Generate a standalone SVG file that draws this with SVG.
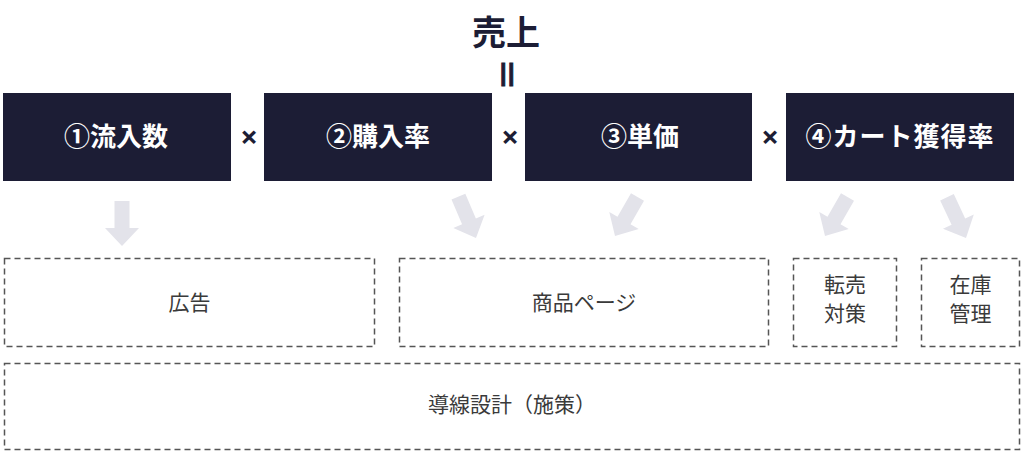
<svg xmlns="http://www.w3.org/2000/svg" width="1024" height="454" viewBox="0 0 1024 454">
<style>
.box{fill:#1c1d35;}
.btxt{font-family:"Noto Sans CJK JP","Noto Sans",sans-serif;font-weight:700;font-size:26px;fill:#ffffff;text-anchor:middle;}
.title{font-family:"Noto Sans CJK JP","Noto Sans",sans-serif;font-weight:700;font-size:34px;fill:#1c1d35;text-anchor:middle;}
.op{font-family:"Noto Sans","Noto Sans CJK JP",sans-serif;font-weight:700;font-size:31px;fill:#1c1d35;text-anchor:middle;}
.eq{font-family:"Liberation Sans",sans-serif;font-weight:700;font-size:23px;fill:#1c1d35;text-anchor:middle;letter-spacing:1.5px;stroke:#1c1d35;stroke-width:1;}
.dash{fill:#ffffff;stroke:#555555;stroke-width:1.5;stroke-dasharray:6 4;}
.dtxt{font-family:"Noto Sans CJK JP","Noto Sans",sans-serif;font-size:21px;fill:#3a3a3a;text-anchor:middle;}
.arr{fill:#e3e3ea;}
</style>
<defs>
<polygon id="arrow" points="-7.5,-45 7.5,-45 7.5,-18 17,-18 0,0 -17,-18 -7.5,-18"/>
</defs>
<rect width="1024" height="454" fill="#ffffff"/>
<g id="title">
<text class="title" x="506" y="45">売上</text>
<text class="eq" x="508" y="81">||</text>
</g>
<g id="node1"><rect class="box" x="3" y="93" width="228" height="88"/><text class="btxt" x="116" y="146">①流入数</text></g>
<g id="node2"><rect class="box" x="264" y="93" width="228" height="88"/><text class="btxt" x="378" y="146">②購入率</text></g>
<g id="node3"><rect class="box" x="525" y="93" width="227" height="88"/><text class="btxt" x="640" y="146">③単価</text></g>
<g id="node4"><rect class="box" x="786" y="93" width="228" height="88"/><text class="btxt" x="900" y="146" style="letter-spacing:1px">④カート獲得率</text></g>
<g id="operators">
<text class="op" x="249" y="148">×</text>
<text class="op" x="510" y="148">×</text>
<text class="op" x="770" y="148">×</text>
</g>
<g id="connectors">
<use href="#arrow" class="arr" transform="translate(122,246)"/>
<use href="#arrow" class="arr" transform="translate(476,238) rotate(-23)"/>
<use href="#arrow" class="arr" transform="translate(615,236) rotate(30)"/>
<use href="#arrow" class="arr" transform="translate(825,236) rotate(30)"/>
<use href="#arrow" class="arr" transform="translate(966,238) rotate(-25)"/>
</g>
<g id="box-ad"><rect class="dash" x="4.5" y="258.5" width="370" height="88"/><text class="dtxt" x="189.5" y="310">広告</text></g>
<g id="box-page"><rect class="dash" x="399.5" y="258.5" width="369" height="88"/><text class="dtxt" x="584" y="310">商品ページ</text></g>
<g id="box-resale"><rect class="dash" x="793.5" y="258.5" width="103" height="88"/><text class="dtxt" x="845" y="292">転売</text><text class="dtxt" x="845" y="321">対策</text></g>
<g id="box-stock"><rect class="dash" x="921.5" y="258.5" width="98" height="88"/><text class="dtxt" x="970.5" y="292">在庫</text><text class="dtxt" x="970.5" y="321">管理</text></g>
<g id="box-flow"><rect class="dash" x="4.5" y="363.5" width="1015" height="86"/><text class="dtxt" x="512" y="412">導線設計（施策）</text></g>
</svg>
